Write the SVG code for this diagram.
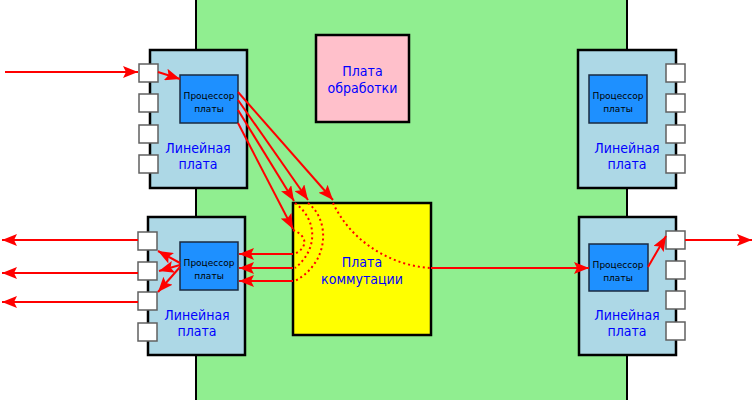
<svg xmlns="http://www.w3.org/2000/svg" width="754" height="400" viewBox="0 0 754 400">
<defs>
<style>
.board{fill:#90ee90;stroke:#000;stroke-width:2}
.card{fill:#add8e6;stroke:#000;stroke-width:2.5}
.port{fill:#fff;stroke:#606060;stroke-width:1.5}
.cpu{fill:#1e90ff;stroke:#1a2a40;stroke-width:1.5}
.cpuT{font-family:"DejaVu Sans",sans-serif;font-size:9px;fill:#000;text-anchor:middle}
.lbl{font-family:"DejaVu Sans",sans-serif;font-size:14px;font-stretch:condensed;fill:#0000ff;text-anchor:middle}
.arr{fill:none;stroke:#ff0000;stroke-width:2;marker-end:url(#ah)}
.dot{fill:none;stroke:#ff0000;stroke-width:2;stroke-dasharray:2,3}
</style>
<marker id="ah" markerUnits="userSpaceOnUse" markerWidth="16" markerHeight="12" refX="15" refY="6" orient="auto" viewBox="0 0 16 12">
<path d="M0,0 L15,6 L0,12 L3,6 z" fill="#ff0000"/>
</marker>
</defs>
<rect width="754" height="400" fill="#fff"/>
<g id="mainboard"><rect class="board" x="196" y="-2" width="431" height="404"/></g>

<g id="proc-board">
<rect x="316" y="35" width="93" height="87" fill="#ffc0cb" stroke="#000" stroke-width="2.5"/>
<text class="lbl" x="362.5" y="76">Плата</text>
<text class="lbl" x="362.5" y="93">обработки</text>
</g>

<g id="switch-board">
<rect x="293" y="203" width="138" height="132" fill="#ffff00" stroke="#000" stroke-width="2.5"/>
<text class="lbl" x="362" y="267">Плата</text>
<text class="lbl" x="362" y="284">коммутации</text>
</g>

<g id="card-tl">
<rect class="card" x="150" y="50" width="97" height="138"/>
<rect class="port" x="139" y="64" width="19" height="18"/>
<rect class="port" x="139" y="94" width="19" height="18"/>
<rect class="port" x="139" y="125" width="19" height="18"/>
<rect class="port" x="139" y="155" width="19" height="18"/>
<rect class="cpu" x="180" y="75" width="58" height="48"/>
<text class="cpuT" x="209" y="99">Процессор</text>
<text class="cpuT" x="209" y="112">платы</text>
<text class="lbl" x="198" y="153">Линейная</text>
<text class="lbl" x="198" y="169">плата</text>
</g>

<g id="card-bl">
<rect class="card" x="148" y="217" width="97" height="138"/>
<rect class="port" x="138" y="232" width="19" height="18"/>
<rect class="port" x="138" y="262" width="19" height="18"/>
<rect class="port" x="138" y="292" width="19" height="18"/>
<rect class="port" x="138" y="323" width="19" height="18"/>
<rect class="cpu" x="180" y="242" width="58" height="48"/>
<text class="cpuT" x="209" y="266">Процессор</text>
<text class="cpuT" x="209" y="279">платы</text>
<text class="lbl" x="197" y="320">Линейная</text>
<text class="lbl" x="197" y="336">плата</text>
</g>

<g id="card-tr">
<rect class="card" x="578" y="50" width="98" height="138"/>
<rect class="port" x="666" y="64" width="19" height="18"/>
<rect class="port" x="666" y="94" width="19" height="18"/>
<rect class="port" x="666" y="125" width="19" height="18"/>
<rect class="port" x="666" y="155" width="19" height="18"/>
<rect class="cpu" x="589" y="75" width="58" height="48"/>
<text class="cpuT" x="618" y="99">Процессор</text>
<text class="cpuT" x="618" y="112">платы</text>
<text class="lbl" x="627" y="153">Линейная</text>
<text class="lbl" x="627" y="169">плата</text>
</g>

<g id="card-br">
<rect class="card" x="579" y="217" width="97" height="138"/>
<rect class="port" x="666" y="231" width="19" height="18"/>
<rect class="port" x="666" y="261" width="19" height="18"/>
<rect class="port" x="666" y="291" width="19" height="18"/>
<rect class="port" x="666" y="322" width="19" height="18"/>
<rect class="cpu" x="589" y="244" width="59" height="47"/>
<text class="cpuT" x="618" y="268">Процессор</text>
<text class="cpuT" x="618" y="281">платы</text>
<text class="lbl" x="627" y="320">Линейная</text>
<text class="lbl" x="627" y="336">плата</text>
</g>

<g id="connectors">
<path class="arr" d="M5,72 L138,72"/>
<path class="arr" d="M158,72 L180,79"/>
<path class="arr" d="M238,92 L333,200"/>
<path class="arr" d="M238,100 L308,200"/>
<path class="arr" d="M238,110 L294,201"/>
<path class="arr" d="M238,123 L293,229"/>
<path class="dot" d="M293,230 C308,236 308,248 294,254"/>
<path class="dot" d="M295,203 C318,220 318,250 295,268"/>
<path class="dot" d="M308,203 C330,220 330,262 295,281"/>
<path class="dot" d="M333,203 C350,240 390,266 431,268"/>
<path class="arr" d="M293,254 L239,254"/>
<path class="arr" d="M293,268 L239,268"/>
<path class="arr" d="M293,281 L239,281"/>
<path class="arr" d="M180,263 L158,251"/>
<path class="arr" d="M180,265 L159,271"/>
<path class="arr" d="M180,267 L158,292"/>
<path class="arr" d="M138,240 L2,240"/>
<path class="arr" d="M138,273 L2,273"/>
<path class="arr" d="M138,302 L2,302"/>
<path class="arr" d="M431,268 L589,268"/>
<path class="arr" d="M648,267 L666,236"/>
<path class="arr" d="M685,240 L752,240"/>
</g>
</svg>
